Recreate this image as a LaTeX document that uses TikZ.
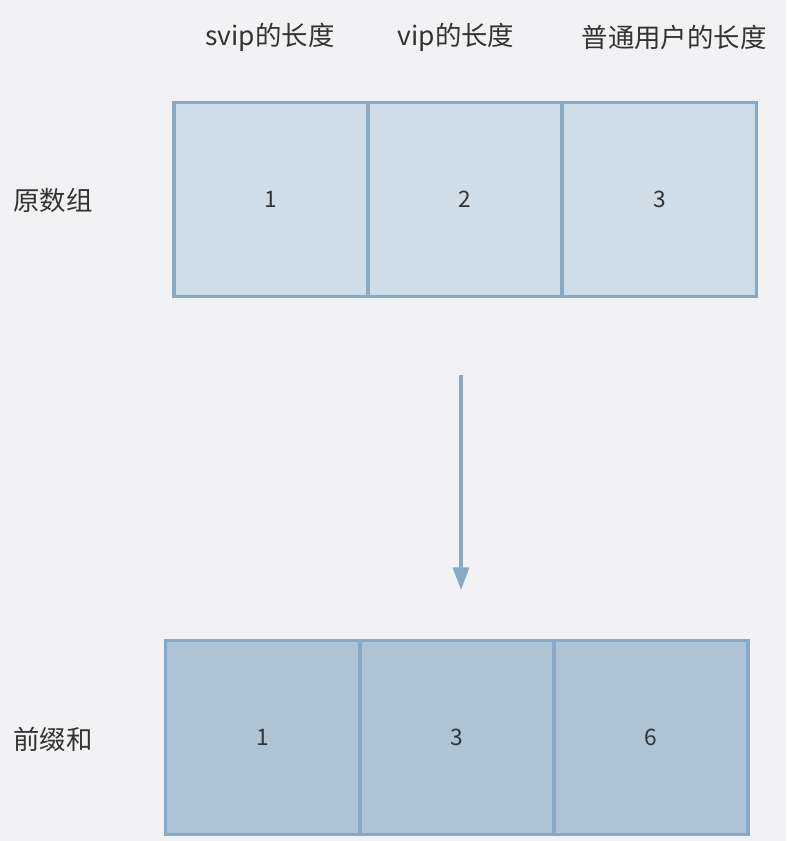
\documentclass[tikz,border=0pt]{standalone}
\usepackage{fontspec}
\setmainfont{Noto Sans CJK SC}
\usetikzlibrary{arrows.meta}

\definecolor{bg}{HTML}{F2F2F4}
\definecolor{rawfill}{HTML}{CFDDE8}
\definecolor{sumfill}{HTML}{ADC3D6}
\definecolor{edge}{HTML}{89AAC6}
\definecolor{txt}{HTML}{333333}

\begin{document}
\begin{tikzpicture}[x=0.75pt,y=-0.75pt,
   cell/.style={draw=edge,line width=2.4pt,minimum width=145.5pt,minimum height=146pt,inner sep=0pt,text=txt,font=\fontsize{17}{19}\selectfont},
   rawcell/.style={cell,fill=rawfill},
   sumcell/.style={cell,fill=sumfill},
   lbl/.style={text=txt,font=\fontsize{19.8}{21}\selectfont}]
   \fill[bg] (0,0) rectangle (786,841);
   \useasboundingbox (0,0) rectangle (786,841);

   % header
   \node[lbl] (hsvip) at (270,37) {svip的长度};
   \node[lbl] (hvip) at (456,37) {vip的长度};
   \node[lbl] (hnorm) at (674,37) {普通用户的长度};

   % original array
   \node[lbl] (lraw) at (53,200) {原数组};
   \node[rawcell] (r1) at (271,199.5) {1};
   \node[rawcell] (r2) at (465,199.5) {2};
   \node[rawcell] (r3) at (659.5,199.5) {3};

   % prefix sum
   \node[lbl] (lsum) at (53,739) {前缀和};
   \node[sumcell] (s1) at (262.5,737.5) {1};
   \node[sumcell] (s2) at (457,737.5) {3};
   \node[sumcell] (s3) at (651,737.5) {6};

   \coordinate (from) at (461,375);
   \coordinate (to) at (461,590);
   \draw[edge,line width=2.4pt,-{Triangle[length=17pt,width=12pt]}] (from) -- (to);
  \end{tikzpicture}
\end{document}
